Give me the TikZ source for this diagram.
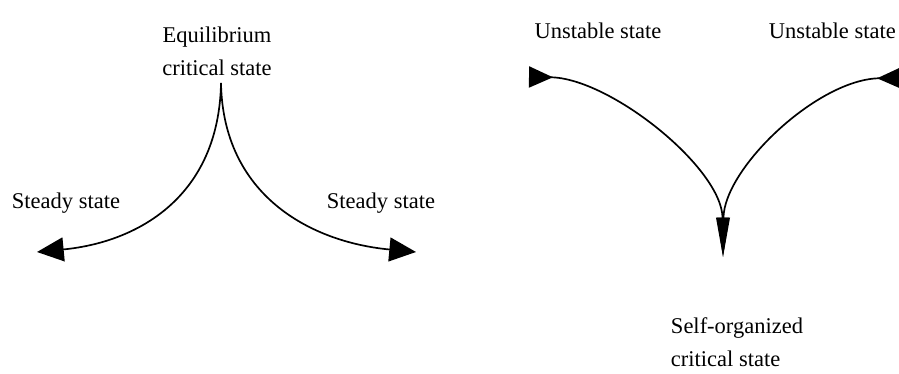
\documentclass[tikz,border=0pt]{standalone}
\usepackage{fontspec}
\setmainfont{Liberation Serif}
\usetikzlibrary{arrows.meta}

\begin{document}
\begin{tikzpicture}[x=0.025cm, y=-0.025cm,
    lbl/.style={font=\fontsize{16}{23.5}\selectfont, inner sep=0pt},
    flow/.style={line width=1.2pt},
    outtip/.style={-{Triangle[length=19pt,width=17pt]}},
    intip/.style={{Triangle[reversed,length=17pt,width=15pt]}-{Triangle[length=28pt,width=9pt]}}]
  \useasboundingbox (0,0) rectangle (899,374);

  % equilibrium: the critical state runs off to steady states
  \node[lbl, align=center] (eq) at (217,51) {Equilibrium\\critical state};
  \node[lbl, anchor=base] (steadyL) at (66,208) {Steady state};
  \node[lbl, anchor=base] (steadyR) at (381,208) {Steady state};
  \coordinate (cuspE) at (221,83);
  \coordinate (endL) at (37,252);
  \coordinate (endR) at (416,252);
  \draw[flow, outtip] (cuspE) .. controls (219,195) and (140,242) .. (endL);
  \draw[flow, outtip] (cuspE) .. controls (223,195) and (310,242) .. (endR);

  % self-organized: unstable states run into the critical state
  \node[lbl, anchor=base] (unstL) at (598,39) {Unstable state};
  \node[lbl, anchor=base east] (unstR) at (896,39) {Unstable state};
  \node[lbl, align=left] (soc) at (737,342) {Self-organized\\critical state};
  \coordinate (startL) at (529,77);
  \coordinate (startR) at (901,78);
  \coordinate (cuspS) at (723,257);
  \draw[flow, intip] (startL) .. controls (610,78) and (722,168) .. (cuspS);
  \draw[flow, intip] (startR) .. controls (818,79) and (724,168) .. (cuspS);
\end{tikzpicture}
\end{document}
